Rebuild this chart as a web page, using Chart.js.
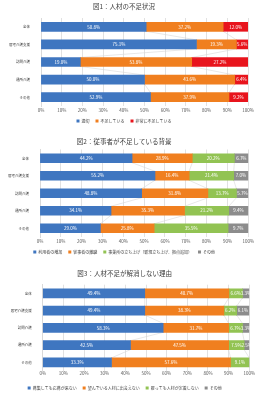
<!DOCTYPE html>
<html lang="ja">
<head>
<meta charset="utf-8">
<title>介護人材の不足状況</title>
<script src="https://cdn.jsdelivr.net/npm/chart.js@4.4.1/dist/chart.umd.min.js"></script>
<style>
  html, body { margin: 0; padding: 0; background: #fff; }
  .panel { position: absolute; left: 0; width: 267px; }
  #panel1 { top: 0; height: 133px; }
  #panel2 { top: 133px; height: 133px; }
  #panel3 { top: 266px; height: 134px; }
</style>
</head>
<body>
<div class="panel" id="panel1"><canvas id="chart1"></canvas></div>
<div class="panel" id="panel2"><canvas id="chart2"></canvas></div>
<div class="panel" id="panel3"><canvas id="chart3"></canvas></div>
<script>
const categories = ['全体', '居宅介護支援', '訪問介護', '通所介護', 'その他'];
const percentTicks = ['0%', '10%', '20%', '30%', '40%', '50%', '60%', '70%', '80%', '90%', '100%'];

// 図1
const fig1Legend = ['適切', '不足している', '非常に不足している'];
const fig1Adequate = [50.8, 75.1, 19.0, 50.0, 52.9];
const fig1Short = [37.2, 19.3, 53.8, 43.6, 37.9];
const fig1VeryShort = [12.0, 5.6, 27.2, 6.4, 9.2];

// 図2
const fig2Legend = ['利用者の増加', '従事者の離職', '事業所の立ち上げ（新規立ち上げ、拠点追加）', 'その他'];
const fig2Users = [44.2, 55.2, 48.8, 34.1, 29.0];
const fig2Turnover = [28.9, 16.4, 31.8, 35.3, 25.8];
const fig2NewSites = [20.2, 21.4, 13.7, 21.2, 35.5];
const fig2Other = [6.7, 7.0, 5.7, 9.4, 9.7];

// 図3
const fig3Legend = ['募集しても応募が来ない', '望んでいる人材に出会えない', '雇っても人材が定着しない', 'その他'];
const fig3NoApplicants = [49.4, 49.4, 58.3, 42.5, 33.3];
const fig3NoMatch = [40.7, 38.3, 31.7, 47.5, 57.6];
const fig3NoRetention = [6.6, 6.2, 6.7, 7.5, 9.1];
const fig3Other = [3.3, 6.1, 3.3, 2.5, 0];

const FONT = '"Noto Sans CJK JP", "Noto Sans", sans-serif';
const BLUE = '#3f76c0', ORANGE = '#f07f1f', RED = '#e8141c', GREEN = '#92c353', GRAY = '#8c8c8c';

// Excel-style series lines between neighbouring bars
const seriesLines = {
    id: 'seriesLines',
    beforeDatasetsDraw(chart) {
        const ctx = chart.ctx;
        const metas = chart.getSortedVisibleDatasetMetas();
        ctx.save();
        ctx.strokeStyle = '#d6d6d6';
        ctx.lineWidth = 0.6;
        metas.slice(0, -1).forEach(meta => {
            for (let i = 0; i < meta.data.length - 1; i++) {
                const a = meta.data[i], b = meta.data[i + 1];
                ctx.beginPath();
                ctx.moveTo(a.x, a.y + a.height / 2);
                ctx.lineTo(b.x, b.y - b.height / 2);
                ctx.stroke();
            }
        });
        ctx.restore();
    }
};

// white value labels in the middle of each segment
const segmentLabels = {
    id: 'segmentLabels',
    afterDatasetsDraw(chart) {
        const ctx = chart.ctx;
        ctx.save();
        ctx.font = `4.5px ${FONT}`;
        ctx.fillStyle = '#ffffff';
        ctx.textAlign = 'center';
        ctx.textBaseline = 'middle';
        chart.getSortedVisibleDatasetMetas().forEach(meta => {
            const values = chart.data.datasets[meta.index].data;
            meta.data.forEach((bar, i) => {
                if (!values[i]) return;
                ctx.fillText(values[i].toFixed(1) + '%', (bar.x + bar.base) / 2, bar.y);
            });
        });
        ctx.restore();
    }
};

function makeChart(canvasId, title, legendLabels, series, colors, frame) {
    return new Chart(document.getElementById(canvasId), {
        type: 'bar',
        data: {
            labels: categories,
            datasets: series.map((data, i) => ({
                label: legendLabels[i],
                data,
                backgroundColor: colors[i],
                borderWidth: 0,
                barThickness: 9
            }))
        },
        options: {
            indexAxis: 'y',
            responsive: true,
            maintainAspectRatio: false,
            animation: false,
            layout: { padding: { left: 0, right: frame.right, top: 0, bottom: frame.bottom } },
            scales: {
                x: {
                    stacked: true,
                    min: 0,
                    max: 100,
                    ticks: {
                        stepSize: 10,
                        padding: frame.tickPad,
                        maxRotation: 0,
                        font: { size: 4.5, family: FONT },
                        color: '#595959',
                        callback: (v, i) => percentTicks[i]
                    },
                    grid: { color: '#d9d9d9', lineWidth: 0.8, drawTicks: false },
                    border: { display: false },
                    afterFit: s => { s.height = frame.xHeight; s.paddingLeft = 0; s.paddingRight = 0; }
                },
                y: {
                    stacked: true,
                    ticks: { padding: 3, font: { size: 3.5, family: FONT }, color: '#404040' },
                    grid: { display: false },
                    border: { color: '#d9d9d9' },
                    afterFit: s => { s.width = frame.left; }
                }
            },
            plugins: {
                title: {
                    display: true,
                    text: title,
                    color: '#404040',
                    font: { size: 6.5, family: FONT, weight: 'normal' },
                    padding: { top: frame.titleTop, bottom: frame.titleBottom }
                },
                legend: {
                    position: 'bottom',
                    labels: { boxWidth: 3, boxHeight: 3, padding: 6, color: '#404040', font: { size: 4, family: FONT } }
                },
                tooltip: { enabled: false }
            }
        },
        plugins: [seriesLines, segmentLabels]
    });
}

makeChart('chart1', '図1：人材の不足状況', fig1Legend,
    [fig1Adequate, fig1Short, fig1VeryShort], [BLUE, ORANGE, RED],
    { left: 41, right: 19, bottom: 0, xHeight: 7, tickPad: 2, titleTop: 3, titleBottom: 7.2 });

makeChart('chart2', '図2：従事者が不足している背景', fig2Legend,
    [fig2Users, fig2Turnover, fig2NewSites, fig2Other], [BLUE, ORANGE, GREEN, GRAY],
    { left: 40, right: 18.7, bottom: 2, xHeight: 7, tickPad: 2, titleTop: 4.8, titleBottom: 3.9 });

makeChart('chart3', '図3：人材不足が解消しない理由', fig3Legend,
    [fig3NoApplicants, fig3NoMatch, fig3NoRetention, fig3Other], [BLUE, ORANGE, GREEN, GRAY],
    { left: 42.7, right: 17.7, bottom: 0, xHeight: 9, tickPad: 0, titleTop: 3.4, titleBottom: 7.5 });
</script>
</body>
</html>
